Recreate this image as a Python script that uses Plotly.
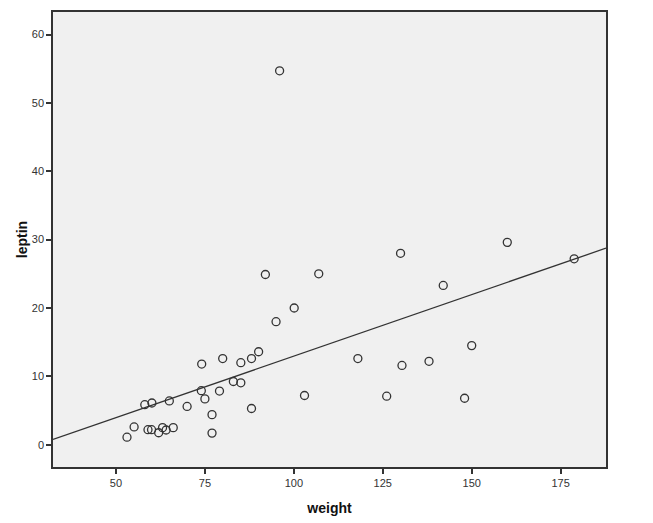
import numpy as np
import plotly.graph_objects as go

weight = [96.0, 92.0, 107.0, 100.1, 95.0, 130.0, 160.0, 178.8, 142.0, 150.0,
          118.0, 130.4, 138.0, 126.1, 148.0, 103.0, 74.1, 80.0, 85.1, 88.1,
          90.1, 83.0, 85.1, 74.0, 79.1, 75.0, 70.0, 58.1, 60.1, 65.0,
          88.1, 77.0, 55.1, 59.0, 60.0, 63.1, 62.0, 64.1, 66.1, 53.1, 77.0]
leptin = [54.7, 24.9, 25.0, 20.0, 18.0, 28.0, 29.6, 27.2, 23.3, 14.5,
          12.6, 11.6, 12.2, 7.1, 6.8, 7.2, 11.8, 12.6, 12.0, 12.6,
          13.6, 9.25, 9.06, 7.9, 7.85, 6.7, 5.6, 5.85, 6.1, 6.4,
          5.3, 4.4, 2.6, 2.2, 2.2, 2.5, 1.75, 2.15, 2.5, 1.1, 1.7]

x_range = [32.3, 187.75]
y_range = [-3.26, 63.3]
x_ticks = [50, 75, 100, 125, 150, 175]
y_ticks = [0, 10, 20, 30, 40, 50, 60]

slope, intercept = np.polyfit(weight, leptin, 1)
line_x = np.array(x_range)
line_y = intercept + slope * line_x

fig = go.Figure()
fig.add_trace(go.Scatter(x=line_x, y=line_y, mode="lines",
                         line=dict(color="#333333", width=1.3),
                         hoverinfo="skip", showlegend=False))
fig.add_trace(go.Scatter(x=weight, y=leptin, mode="markers",
                         marker=dict(symbol="circle-open", size=8,
                                     color="#333333", line=dict(width=1.3)),
                         showlegend=False))

font = "Liberation Sans, Arial, sans-serif"
fig.update_layout(
    width=653, height=523,
    margin=dict(l=53, r=47, t=12, b=56),
    paper_bgcolor="white", plot_bgcolor="#f0f0f0",
    font=dict(family=font, size=11, color="#333333"),
    showlegend=False,
)
fig.update_xaxes(range=x_range, tickvals=x_ticks, ticks="outside", ticklen=5,
                 tickwidth=1.5, tickcolor="#333333", showgrid=False, zeroline=False,
                 showline=True, linecolor="#333333", linewidth=1.5, mirror=True,
                 automargin=False,
                 title=dict(text="<b>weight</b>", font=dict(size=14, color="#111111"),
                            standoff=15))
fig.update_yaxes(range=y_range, tickvals=y_ticks, ticks="outside", ticklen=5,
                 tickwidth=1.5, tickcolor="#333333", showgrid=False, zeroline=False,
                 showline=True, linecolor="#333333", linewidth=1.5, mirror=True,
                 automargin=False,
                 title=dict(text="<b>leptin</b>", font=dict(size=14, color="#111111"),
                            standoff=1))
fig.write_html("out.html")
